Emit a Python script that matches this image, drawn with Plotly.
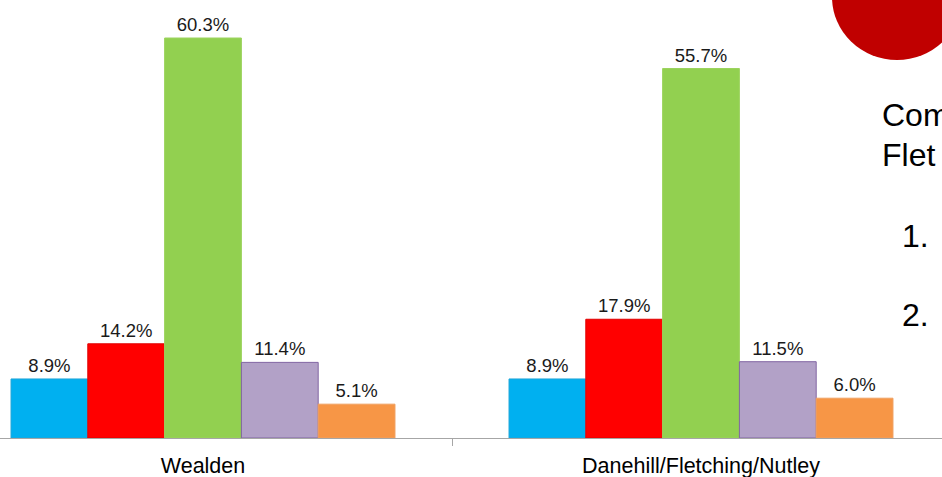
import plotly.graph_objects as go

categories = ["Wealden", "Danehill/Fletching/Nutley"]
series_names = ["Series 1", "Series 2", "Series 3", "Series 4", "Series 5"]
series_values = [
    [8.9, 8.9],
    [14.2, 17.9],
    [60.3, 55.7],
    [11.4, 11.5],
    [5.1, 6.0],
]
series_colors = ["#00B0F0", "#FF0000", "#92D050", "#B2A1C7", "#F79646"]
series_lines = ["#1FA6D8", "#E00000", "#9CD35E", "#8064A2", "#F0A060"]

W, H = 942, 477
plot_bottom = 438
px_per_pct = 400 / 60.3

fig = go.Figure()
for name, vals, col, lc in zip(series_names, series_values, series_colors, series_lines):
    fig.add_trace(go.Bar(
        x=categories, y=vals, name=name,
        marker=dict(color=col, line=dict(color=lc, width=1)),
        texttemplate="%{y:.1f}%", textposition="outside",
        textfont=dict(family="Liberation Sans, Arial, sans-serif", size=18.5, color="#1a1a1a"),
        constraintext="none", cliponaxis=False,
    ))

# Partial slide content at right edge
fig.add_shape(type="circle", xref="paper", yref="paper",
              x0=832 / W, x1=962 / W,
              y0=(plot_bottom - 60) / plot_bottom, y1=(plot_bottom + 66) / plot_bottom,
              fillcolor="#C00000", line=dict(width=0), layer="above")

txt_font = dict(family="Liberation Sans, Arial, sans-serif", size=32, color="#000000")
lines = [
    ("Com", 880, 115),
    ("Flet", 880, 155),
    ("1.", 900, 236),
    ("2.", 900, 315),
]
for t, xp, yp in lines:
    fig.add_annotation(text=t, xref="paper", yref="paper",
                       x=xp / W, y=(plot_bottom - yp) / plot_bottom,
                       xanchor="left", yanchor="middle", showarrow=False,
                       font=txt_font, align="left")

fig.update_layout(
    width=W, height=H,
    margin=dict(l=0, r=0, t=0, b=H - plot_bottom, pad=0),
    paper_bgcolor="white", plot_bgcolor="white",
    barmode="group", bargap=0.229, bargroupgap=0,
    showlegend=False,
    font=dict(family="Liberation Sans, Arial, sans-serif"),
    xaxis=dict(
        range=[-203 / 498, 739 / 498],
        showline=True, linecolor="#A6A6A6", linewidth=1,
        ticks="outside", tickson="boundaries", ticklen=7, tickcolor="#A6A6A6",
        ticklabelstandoff=8,
        showgrid=False, zeroline=False,
        tickfont=dict(family="Liberation Sans, Arial, sans-serif", size=21.5, color="#000000"),
    ),
    yaxis=dict(range=[0, plot_bottom / px_per_pct], visible=False, showgrid=False),
)

fig.write_html(
    "out.html",
    config={"displayModeBar": False},
    post_script="document.body.style.margin='0';document.body.style.overflow='hidden';",
)
